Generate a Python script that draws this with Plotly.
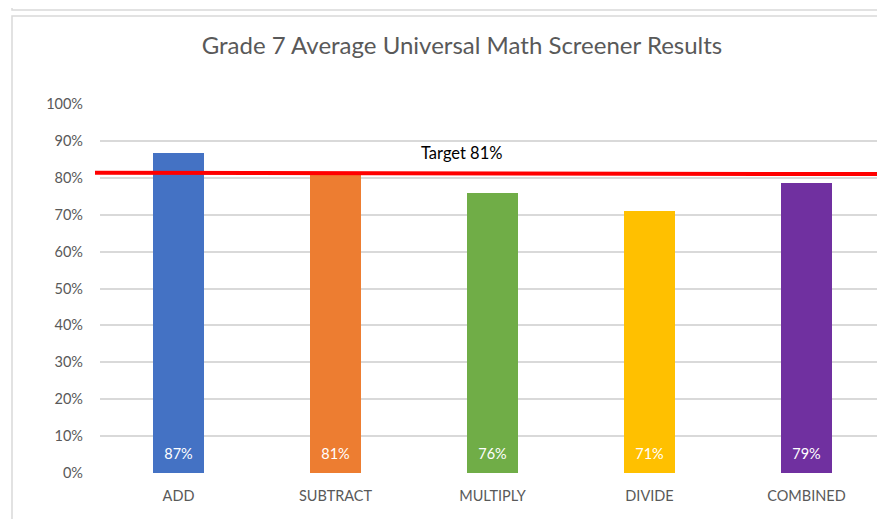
import plotly.graph_objects as go

# chart data
categories = ["ADD", "SUBTRACT", "MULTIPLY", "DIVIDE", "COMBINED"]
scores = [0.866, 0.809, 0.759, 0.710, 0.785]
score_labels = ["87%", "81%", "76%", "71%", "79%"]
bar_colors = ["#4472C4", "#ED7D31", "#70AD47", "#FFC000", "#7030A0"]
target_ends = [0.814, 0.810]  # hand-drawn target line, slightly tilted
target_label = "Target 81%"
y_ticks = [i / 10 for i in range(11)]

# page body has an 8px margin, so the figure is drawn 8px in from the corner
W, H = 877, 511
L, R, T, B = 92, 0, 96, 46
PW, PH = W - L - R, H - T - B


def px_x(x):
    return (x - L) / PW


def px_y(y):
    return (H - B - y) / PH


fig = go.Figure()

fig.add_trace(go.Bar(
    x=categories,
    y=scores,
    width=0.32,
    marker=dict(color=bar_colors, line=dict(width=0)),
    hoverinfo="x+y",
    showlegend=False,
))

# value labels sit near the base of each bar
fig.add_trace(go.Scatter(
    x=categories,
    y=[18 / PH] * len(categories),
    mode="text",
    text=score_labels,
    textposition="middle center",
    textfont=dict(color="white", size=14.5, family="Lato"),
    hoverinfo="skip",
    showlegend=False,
))

shapes = [
    # target line
    dict(type="line", xref="paper", yref="y",
         x0=px_x(87), x1=px_x(869), y0=target_ends[0], y1=target_ends[1],
         line=dict(color="#FF0000", width=4)),
    # chart frame
    dict(type="rect", xref="paper", yref="paper",
         x0=px_x(4), x1=px_x(876), y0=px_y(530), y1=px_y(8),
         line=dict(color="#D9D9D9", width=1.5), layer="below"),
    # box above the chart
    dict(type="rect", xref="paper", yref="paper",
         x0=px_x(4), x1=px_x(876), y0=px_y(2), y1=px_y(-30),
         line=dict(color="#D9D9D9", width=1.5), layer="below"),
]

fig.update_layout(
    width=W, height=H,
    margin=dict(l=L, r=R, t=T, b=B, pad=0),
    paper_bgcolor="white",
    plot_bgcolor="white",
    font=dict(family="Lato", color="#595959", size=14.5),
    title=dict(text="Grade 7 Average Universal Math Screener Results",
               x=px_x(454), xref="paper", xanchor="center",
               y=1 - 38 / H, yanchor="middle",
               font=dict(size=24, color="#595959", family="Lato")),
    shapes=shapes,
    annotations=[dict(text=target_label, xref="paper", yref="paper",
                      x=px_x(454), y=px_y(145), showarrow=False,
                      xanchor="center", yanchor="middle",
                      font=dict(size=16.5, color="#000000", family="Lato"))],
    bargap=0,
)

fig.update_xaxes(range=[-0.5, 4.5], showgrid=False, showline=False,
                 ticks="", tickfont=dict(size=14.5, color="#595959"),
                 ticklabelstandoff=12)
fig.update_yaxes(range=[0, 1], tickvals=y_ticks, tickformat=".0%",
                 showgrid=True, gridcolor="#D9D9D9", gridwidth=1.5,
                 zeroline=False, showline=False, ticks="",
                 ticklabelstandoff=16,
                 tickfont=dict(size=14.5, color="#595959"))

fig.write_html("out.html")
